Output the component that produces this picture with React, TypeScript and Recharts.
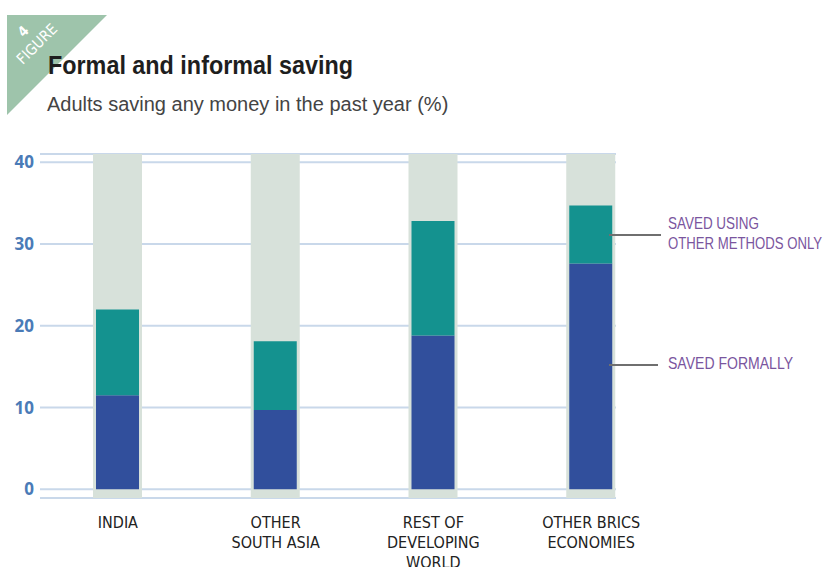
import React from "react";
import { BarChart, Bar, XAxis, YAxis, CartesianGrid } from "recharts";

const categories = ["INDIA", "OTHER\nSOUTH ASIA", "REST OF\nDEVELOPING\nWORLD", "OTHER BRICS\nECONOMIES"];
const savedFormally = [11.5, 9.7, 18.8, 27.6];
const savedOtherOnly = [10.5, 8.4, 14.0, 7.1];
const yTicks = [0, 10, 20, 30, 40];

const data = categories.map((c, i) => ({
  name: c,
  formal: savedFormally[i],
  other: savedOtherOnly[i],
}));

const NARROW = "'Liberation Sans Narrow', 'DejaVu Sans Condensed', 'Liberation Sans', sans-serif";
const SANS = "'Liberation Sans', sans-serif";

const XTick = (props: any) => {
  const { x, y, payload } = props;
  const lines = String(payload.value).split("\n");
  return (
    <text x={x} y={y} textAnchor="middle" fill="#222" fontFamily={NARROW} fontSize={16}>
      {lines.map((l, i) => (
        <tspan key={i} x={x} dy={i === 0 ? 22 : 20}>{l}</tspan>
      ))}
    </text>
  );
};

const YTick = (props: any) => {
  const { x, y, payload } = props;
  return (
    <text x={x} y={y} dx={3} dy={6} textAnchor="end" fill="#4a7bb7" fontFamily="'Open Sans', sans-serif" fontWeight={700} fontSize={17}>
      {payload.value}
    </text>
  );
};

const Bg = (props: any) => {
  const { x, y, width, height } = props;
  return <rect x={x - 3} y={y} width={width + 6} height={height} fill="#d7e1da" />;
};

export default function App() {
  return (
    <div style={{ position: "absolute", left: 0, top: 0, width: 824, height: 567, background: "#fff", overflow: "hidden" }}>
      <svg width={824} height={130} style={{ position: "absolute", left: 0, top: 0 }}>
        <polygon points="7,15 107,15 7,115" fill="#9ec4ab" />
        <text x={0} y={0} dy={5} transform="translate(37,44) rotate(-45)" fill="#fff" fontFamily={NARROW} fontSize={15} textAnchor="middle">FIGURE</text>
        <text x={0} y={0} dy={5} transform="translate(23,31) rotate(-45)" fill="#fff" fontFamily={NARROW} fontWeight={700} fontSize={14} textAnchor="middle">4</text>
        <text x={48} y={74} fill="#1e1e1e" fontFamily={SANS} fontWeight={700} fontSize={26} textLength={305} lengthAdjust="spacingAndGlyphs">Formal and informal saving</text>
        <text x={47} y={111} fill="#444" fontFamily={SANS} fontSize={20}>Adults saving any money in the past year (%)</text>
      </svg>
      <BarChart
        width={824}
        height={567}
        data={data}
        margin={{ top: 154, right: 154, bottom: 39, left: 0 }}
        barSize={43}
      >
        <CartesianGrid x={40} width={576} vertical={false} stroke="#c9d8ea" strokeWidth={2} />
        <XAxis dataKey="name" height={30} axisLine={false} tickLine={false} tick={<XTick />} interval={0} />
        <YAxis
          width={39}
          domain={[-1.06, 41]}
          ticks={yTicks}
          axisLine={false}
          tickLine={false}
          tick={<YTick />}
          allowDataOverflow
        />
        <Bar dataKey="formal" stackId="a" fill="#314f9c" background={<Bg />} isAnimationActive={false} />
        <Bar dataKey="other" stackId="a" fill="#14928f" isAnimationActive={false} />
      </BarChart>
      <svg width={824} height={567} style={{ position: "absolute", left: 0, top: 0, pointerEvents: "none" }}>
        <line x1={609} y1={235} x2={661} y2={235} stroke="#6f6f6f" strokeWidth={2} />
        <line x1={609} y1={365} x2={658} y2={365} stroke="#6f6f6f" strokeWidth={2} />
        <text x={668} y={229} fill="#7a559e" fontFamily={SANS} fontSize={17} textLength={91} lengthAdjust="spacingAndGlyphs">SAVED USING</text>
        <text x={668} y={249} fill="#7a559e" fontFamily={SANS} fontSize={17} textLength={154} lengthAdjust="spacingAndGlyphs">OTHER METHODS ONLY</text>
        <text x={668} y={369} fill="#7a559e" fontFamily={SANS} fontSize={17} textLength={125} lengthAdjust="spacingAndGlyphs">SAVED FORMALLY</text>
      </svg>
    </div>
  );
}
